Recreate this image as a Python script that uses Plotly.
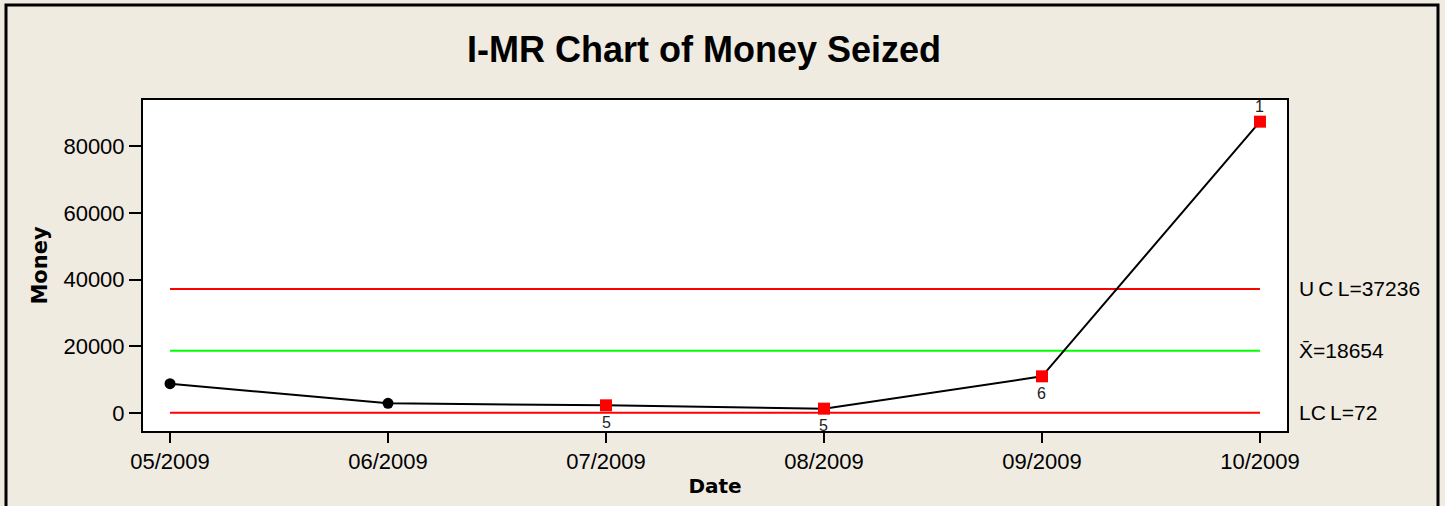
import plotly.graph_objects as go

dates = ["05/2009", "06/2009", "07/2009", "08/2009", "09/2009", "10/2009"]
money = [8800, 2900, 2300, 1300, 11000, 87400]
flagged = [False, False, True, True, True, True]
test_labels = ["", "", "5", "5", "6", "1"]
ucl = 37236
center = 18654
lcl = 72

xi = list(range(len(dates)))
fig = go.Figure()

# control lines
for val, col in [(ucl, "#FF0000"), (center, "#00FF00"), (lcl, "#FF0000")]:
    fig.add_trace(go.Scatter(x=[xi[0], xi[-1]], y=[val, val], mode="lines",
                             line=dict(color=col, width=2), hoverinfo="skip"))

fig.add_trace(go.Scatter(x=xi, y=money, mode="lines",
                         line=dict(color="black", width=2)))
fig.add_trace(go.Scatter(x=[x for x, f in zip(xi, flagged) if not f],
                         y=[m for m, f in zip(money, flagged) if not f],
                         mode="markers", marker=dict(symbol="circle", size=11, color="black")))
fig.add_trace(go.Scatter(x=[x for x, f in zip(xi, flagged) if f],
                         y=[m for m, f in zip(money, flagged) if f],
                         mode="markers", marker=dict(symbol="square", size=12, color="#FF0000")))

font = "Liberation Sans"
bold_font = "DejaVu Sans"
for x, m, lab in zip(xi, money, test_labels):
    if not lab:
        continue
    above = lab == "1"
    fig.add_annotation(x=x, y=m, xref="x", yref="y", text=lab, showarrow=False,
                       yshift=15 if above else -17,
                       font=dict(family=font, size=16, color="#222"))

right_labels = [(ucl, "U\u2009C\u2009L=%d" % ucl), (center, "X\u0304=%d" % center),
                (lcl, "LC\u2009L=%d" % lcl)]
for val, txt in right_labels:
    fig.add_annotation(x=1.0, y=val, xref="paper", yref="y", text=txt, showarrow=False,
                       xanchor="left", xshift=10, font=dict(family=font, size=21, color="black"))

fig.add_annotation(x=(704 - 143) / 1144, y=1.0, xref="paper", yref="paper", yanchor="middle",
                   text="<b>I-MR Chart of Money Seized</b>", showarrow=False, yshift=51,
                   font=dict(family=font, size=36, color="black"))

# outer frame
fig.add_shape(type="rect", xref="paper", yref="paper",
              x0=(6 - 143) / 1144, x1=(1438 - 143) / 1144, y0=-0.26, y1=(431 - 5) / 331,
              line=dict(color="black", width=3), layer="above")

fig.update_layout(
    width=1445, height=506,
    margin=dict(l=143, r=158, t=100, b=75),
    paper_bgcolor="#EFEBE1", plot_bgcolor="white",
    showlegend=False,
    font=dict(family=font, size=22, color="black"),
    xaxis=dict(range=[-0.124, 5.124], tickmode="array", tickvals=xi, ticktext=dates,
               showgrid=False, zeroline=False, showline=True, linecolor="black", linewidth=2,
               mirror=True, ticks="outside", ticklen=10, tickwidth=2, tickcolor="black",
               tickfont=dict(size=22),
               title=dict(text="<b>Date</b>", font=dict(family=bold_font, size=20), standoff=6)),
    yaxis=dict(range=[-5400, 93900], tickvals=[0, 20000, 40000, 60000, 80000],
               tickformat="d", showgrid=False, zeroline=False, showline=True,
               linecolor="black", linewidth=2, mirror=True, ticks="outside", ticklen=12,
               tickwidth=2, tickcolor="black", tickfont=dict(size=22),
               title=dict(text="<b>Money</b>", font=dict(family=bold_font, size=21), standoff=10)),
)

fig.write_html("out.html", config={"displayModeBar": False},
               post_script="document.body.style.margin='0px';")
